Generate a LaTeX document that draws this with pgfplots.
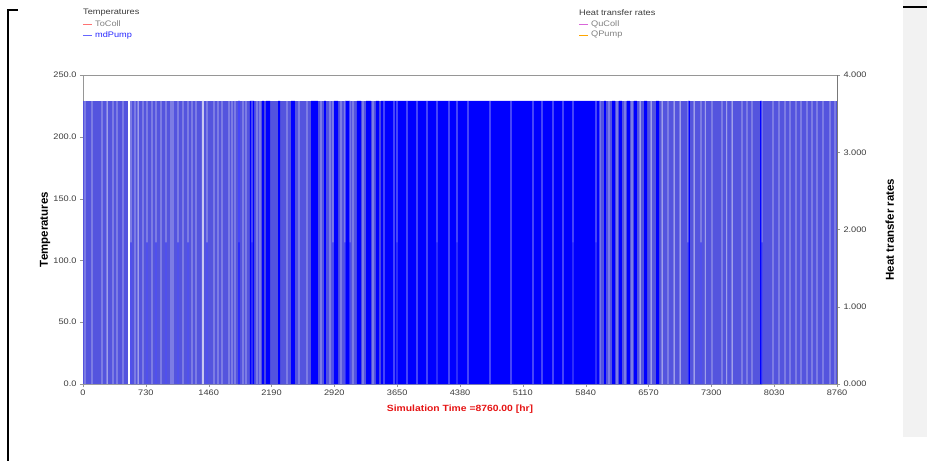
\documentclass[border=0pt]{standalone}
\usepackage{fontspec}
\setmainfont{Liberation Sans}[FakeStretch=1.15]
\newfontfamily\labelfont{Liberation Sans}
\usepackage{pgfplots}
\pgfplotsset{compat=1.18}
\definecolor{mdblue}{RGB}{84,84,222}
\definecolor{pureblue}{RGB}{0,0,255}
\definecolor{gapcol}{RGB}{200,200,240}
\definecolor{axgray}{RGB}{150,150,150}
\definecolor{panel}{RGB}{242,242,242}
\definecolor{labred}{RGB}{230,20,20}
\definecolor{txtgray}{RGB}{60,60,60}
\begin{document}
\begin{tikzpicture}
\begin{axis}[name=main, at={(0pt,0pt)}, anchor=south west, scale only axis,
  width=754pt, height=309pt,
  xmin=0, xmax=8760, ymin=0, ymax=250,
  axis line style={axgray, line width=0.8pt},
  axis y line*=left, axis x line*=box,
  xtick={0,730,1460,2190,2920,3650,4380,5110,5840,6570,7300,8030,8760},
  xticklabels={0,730,1460,2190,2920,3650,4380,5110,5840,6570,7300,8030,8760},
  ytick={0,50,100,150,200,250},
  tick style={axgray}, major tick length=3pt, tick align=outside,
  xtick pos=bottom,
  /pgf/number format/assume math mode=true,
  tick label style={font=\fontsize{8}{9}\selectfont, text=txtgray},
  yticklabel style={/pgf/number format/.cd, fixed, fixed zerofill, precision=1},
  xticklabel style={yshift=1pt},
  ylabel={\labelfont\bfseries Temperatures},
  ylabel style={font=\fontsize{11.5}{13}\selectfont, at={(axis description cs:-0.0504,0.5)}, anchor=center},
  xlabel={\bfseries Simulation Time =8760.00 [hr]},
  xlabel style={font=\fontsize{9}{11}\selectfont, text=labred, at={(axis description cs:0.5,-0.08)}, anchor=center},
]
% base fill (dense switching)
\addplot[ybar interval, fill=mdblue, draw=none] coordinates {(0,229) (8760,229)};
% continuously-on periods
\addplot[ybar interval, fill=pureblue, draw=none] coordinates {
(1801,229)(1824,0)(1940,229)(1987,0)(2080,229)(2103,0)(2126,229)(2173,0)(2266,229)(2289,0)(2417,229)(2463,0)(2649,229)(2730,0)(2800,229)(2823,0)(2916,229)(2963,0)(3044,229)(3102,0)(3183,229)(3230,0)(3288,229)(3346,0)(3404,229)(3439,0)(3462,229)(6007,0)(6053,229)(6076,0)(6146,229)(6181,0)(6227,229)(6262,0)(6320,229)(6355,0)(6401,229)(6436,0)(6518,229)(6553,0)(6658,229)(6692,0)(7029,229)(7052,0)(7866,229)(7889,0)};
% off periods
\addplot[ybar interval, fill=gapcol, draw=none] coordinates {
(18,229)(28,0)(100,229)(110,0)(216,229)(226,0)(275,229)(285,0)(344,229)(354,0)(390,229)(400,0)(460,229)(470,0)(553,229)(563,0)(599,229)(609,0)(635,229)(645,0)(692,229)(702,0)(739,229)(749,0)(797,229)(807,0)(843,229)(853,0)(901,229)(911,0)(959,229)(969,0)(1017,229)(1027,0)(1041,229)(1051,0)(1099,229)(1109,0)(1157,229)(1167,0)(1215,229)(1225,0)(1261,229)(1271,0)(1308,229)(1318,0)(1380,229)(1405,0)(1436,229)(1446,0)(1517,229)(1527,0)(1563,229)(1573,0)(1610,229)(1620,0)(1691,229)(1701,0)(1726,229)(1736,0)(1761,229)(1771,0)(1807,229)(1817,0)(1854,229)(1864,0)(1889,229)(1899,0)(1958,229)(1968,0)(2017,229)(2027,0)(2051,229)(2061,0)(2365,229)(2375,0)(2504,229)(2514,0)(2597,229)(2607,0)(2760,229)(2770,0)(2865,229)(2875,0)(2900,229)(2910,0)(2993,229)(3003,0)(3039,229)(3049,0)(3097,229)(3107,0)(3132,229)(3142,0)(3248,229)(3258,0)(3364,229)(3374,0)(3492,229)(3502,0)(3608,229)(3618,0)(3643,229)(3653,0)(3759,229)(3769,0)(3875,229)(3885,0)(3992,229)(4002,0)(4108,229)(4118,0)(4247,229)(4257,0)(4340,229)(4350,0)(4468,229)(4478,0)(4724,229)(4734,0)(4967,229)(4977,0)(5223,229)(5233,0)(5328,229)(5338,0)(5456,229)(5466,0)(5572,229)(5582,0)(5688,229)(5698,0)(5955,229)(5965,0)(6002,229)(6012,0)(6106,229)(6116,0)(6199,229)(6209,0)(6292,229)(6302,0)(6374,229)(6384,0)(6467,229)(6477,0)(6595,229)(6605,0)(6723,229)(6733,0)(6792,229)(6802,0)(6862,229)(6872,0)(6932,229)(6942,0)(7024,229)(7034,0)(7095,229)(7105,0)(7175,229)(7185,0)(7225,229)(7235,0)(7303,229)(7313,0)(7419,229)(7429,0)(7474,229)(7484,0)(7536,229)(7546,0)(7652,229)(7662,0)(7710,229)(7720,0)(7768,229)(7778,0)(7884,229)(7894,0)(8012,229)(8022,0)(8081,229)(8091,0)(8151,229)(8161,0)(8209,229)(8219,0)(8279,229)(8289,0)(8337,229)(8347,0)(8406,229)(8416,0)(8465,229)(8475,0)(8523,229)(8533,0)(8592,229)(8602,0)(8674,229)(8684,0)(8732,229)(8742,0)};
\addplot[ybar interval, fill=white, draw=none] coordinates {(523,229)(548,0)};
% half-flow periods
\addplot[ybar interval, fill=pureblue, draw=none] coordinates {
(553,114.5)(563,0)(739,114.5)(749,0)(843,114.5)(853,0)(959,114.5)(969,0)(1099,114.5)(1109,0)(1215,114.5)(1225,0)(1436,114.5)(1446,0)(1807,114.5)(1817,0)(1958,114.5)(1968,0)(2900,114.5)(2910,0)(3039,114.5)(3049,0)(3097,114.5)(3107,0)(3643,114.5)(3653,0)(4108,114.5)(4118,0)(4340,114.5)(4350,0)(5688,114.5)(5698,0)(5955,114.5)(5965,0)(7024,114.5)(7034,0)(7175,114.5)(7185,0)(7884,114.5)(7894,0)};
\end{axis}

\begin{axis}[at={(main.south west)}, anchor=south west, scale only axis,
  width=754pt, height=309pt,
  xmin=0, xmax=8760, ymin=0, ymax=4,
  axis x line=none, axis y line*=right,
  axis line style={axgray!80!black, line width=0.8pt},
  ytick={0,1,2,3,4},
  tick style={axgray}, major tick length=3pt, tick align=outside,
  /pgf/number format/assume math mode=true,
  tick label style={font=\fontsize{8}{9}\selectfont, text=txtgray},
  yticklabel style={/pgf/number format/.cd, fixed, fixed zerofill, precision=3},
  ylabel={\labelfont\bfseries Heat transfer rates},
  ylabel style={font=\fontsize{11.5}{13}\selectfont, at={(axis description cs:1.070,0.5)}, anchor=center},
]
\addplot[draw=none] coordinates {(0,0) (8760,0)};
\end{axis}

\begin{scope}[shift={(main.south west)}, x=1pt, y=-1pt, shift={(-83,-384)}]
\fill[panel] (903,0) rectangle (927,437);
\draw[black, line width=1.2pt] (903,7) -- (927,7);
\draw[black, line width=1.4pt] (18,10) -- (8,10) -- (8,461);
\node[anchor=west, inner sep=0, font=\fontsize{8}{9}\selectfont, text=txtgray] at (83,13) {Temperatures};
\draw[red!55, line width=0.8pt] (83,24) -- (92,24);
\node[anchor=west, inner sep=0, font=\fontsize{8}{9}\selectfont, text=gray] at (95,24) {ToColl};
\draw[blue!60, line width=0.8pt] (83,35) -- (92,35);
\node[anchor=west, inner sep=0, font=\fontsize{8}{9}\selectfont, text=blue!85] at (95,35) {mdPump};
\node[anchor=west, inner sep=0, font=\fontsize{8}{9}\selectfont, text=txtgray] at (579,13) {Heat transfer rates};
\draw[violet!50!magenta!60, line width=0.8pt] (579,24) -- (588,24);
\node[anchor=west, inner sep=0, font=\fontsize{8}{9}\selectfont, text=gray] at (591,24) {QuColl};
\draw[orange!70!yellow, line width=0.8pt] (579,35) -- (588,35);
\node[anchor=west, inner sep=0, font=\fontsize{8}{9}\selectfont, text=gray] at (591,35) {QPump};
\pgfresetboundingbox
\path[use as bounding box] (0,0) rectangle (927,461);
\end{scope}
\end{tikzpicture}
\end{document}
